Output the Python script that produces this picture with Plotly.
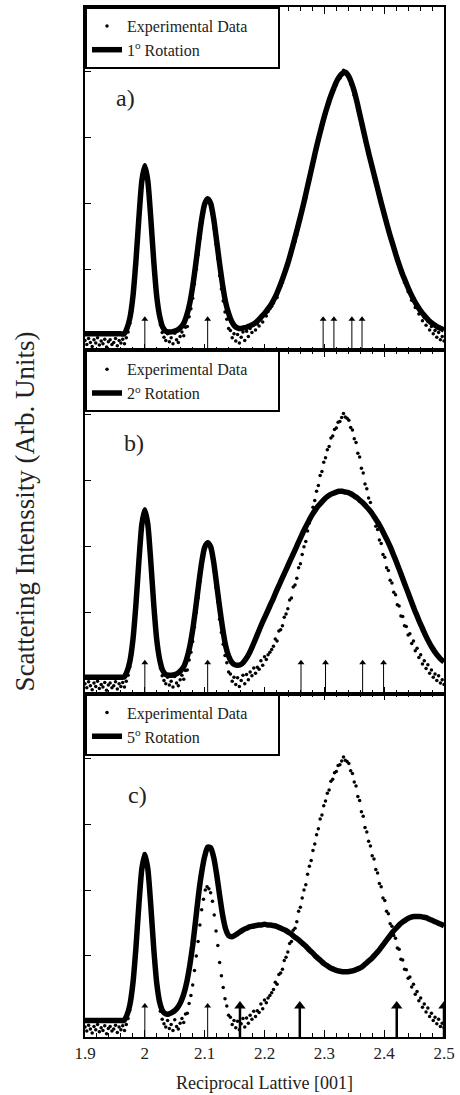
import plotly.graph_objects as go
from plotly.subplots import make_subplots

# ---------------- data ----------------
X_DATA = [
    1.900, 1.903, 1.906, 1.909, 1.912, 1.915, 1.918, 1.921, 1.924, 1.927,
    1.930, 1.933, 1.936, 1.939, 1.942, 1.945, 1.948, 1.951, 1.954, 1.957,
    1.960, 1.963, 1.966, 1.969, 1.972, 1.975, 1.978, 1.981, 1.984, 1.987,
    1.990, 1.993, 1.996, 1.999, 2.002, 2.005, 2.008, 2.011, 2.014, 2.017,
    2.020, 2.023, 2.026, 2.029, 2.032, 2.035, 2.038, 2.041, 2.044, 2.047,
    2.050, 2.053, 2.056, 2.059, 2.062, 2.065, 2.068, 2.071, 2.074, 2.077,
    2.080, 2.083, 2.086, 2.089, 2.092, 2.095, 2.098, 2.101, 2.104, 2.107,
    2.110, 2.113, 2.116, 2.119, 2.122, 2.125, 2.128, 2.131, 2.134, 2.137,
    2.140, 2.143, 2.146, 2.149, 2.152, 2.155, 2.158, 2.161, 2.164, 2.167,
    2.170, 2.173, 2.176, 2.179, 2.182, 2.185, 2.188, 2.191, 2.194, 2.197,
    2.200, 2.203, 2.206, 2.209, 2.212, 2.215, 2.218, 2.221, 2.224, 2.227,
    2.230, 2.233, 2.236, 2.239, 2.242, 2.245, 2.248, 2.251, 2.254, 2.257,
    2.260, 2.263, 2.266, 2.269, 2.272, 2.275, 2.278, 2.281, 2.284, 2.287,
    2.290, 2.293, 2.296, 2.299, 2.302, 2.305, 2.308, 2.311, 2.314, 2.317,
    2.320, 2.323, 2.326, 2.329, 2.332, 2.335, 2.338, 2.341, 2.344, 2.347,
    2.350, 2.353, 2.356, 2.359, 2.362, 2.365, 2.368, 2.371, 2.374, 2.377,
    2.380, 2.383, 2.386, 2.389, 2.392, 2.395, 2.398, 2.401, 2.404, 2.407,
    2.410, 2.413, 2.416, 2.419, 2.422, 2.425, 2.428, 2.431, 2.434, 2.437,
    2.440, 2.443, 2.446, 2.449, 2.452, 2.455, 2.458, 2.461, 2.464, 2.467,
    2.470, 2.473, 2.476, 2.479, 2.482, 2.485, 2.488, 2.491, 2.494, 2.497,
    2.500,
]
Y_DATA = [
    -0.08, -0.14, -0.05, -0.11, -0.17, -0.07, -0.12, -0.04, -0.15, -0.09,
    -0.13, -0.06, -0.18, -0.10, -0.07, -0.14, -0.11, -0.05, -0.16, -0.08,
    -0.12, -0.06, -0.13, -0.04, 0.05, 0.18, 0.36, 0.62, 0.95, 1.30,
    1.74, 2.12, 2.40, 2.55, 2.50, 2.33, 2.02, 1.60, 1.22, 0.84,
    0.53, 0.31, 0.16, 0.04, -0.03, -0.08, 0.02, -0.10, -0.04, -0.13,
    0.03, -0.07, -0.11, -0.02, 0.05, -0.01, 0.12, 0.13, 0.28, 0.40,
    0.56, 0.78, 1.00, 1.22, 1.47, 1.70, 1.86, 2.00, 2.05, 2.02,
    1.96, 1.83, 1.62, 1.38, 1.16, 0.90, 0.70, 0.52, 0.35, 0.24,
    0.10, 0.07, -0.04, 0.02, -0.09, 0.01, -0.12, -0.03, 0.05, -0.08,
    0.06, -0.02, 0.10, 0.04, 0.16, 0.08, 0.17, 0.14, 0.27, 0.20,
    0.33, 0.29, 0.36, 0.40, 0.44, 0.49, 0.60, 0.57, 0.72, 0.74,
    0.80, 0.93, 0.98, 1.06, 1.19, 1.22, 1.39, 1.42, 1.52, 1.68,
    1.74, 1.88, 2.00, 2.08, 2.24, 2.36, 2.45, 2.60, 2.70, 2.84,
    2.93, 3.08, 3.14, 3.28, 3.35, 3.47, 3.52, 3.65, 3.68, 3.78,
    3.80, 3.89, 3.90, 3.96, 4.02, 3.97, 3.95, 3.92, 3.81, 3.77,
    3.64, 3.58, 3.42, 3.36, 3.19, 3.12, 2.95, 2.88, 2.74, 2.67,
    2.52, 2.47, 2.31, 2.26, 2.10, 2.05, 1.88, 1.84, 1.68, 1.64,
    1.49, 1.45, 1.31, 1.27, 1.12, 1.10, 0.95, 0.94, 0.80, 0.79,
    0.66, 0.68, 0.53, 0.57, 0.42, 0.46, 0.32, 0.36, 0.22, 0.27,
    0.15, 0.21, 0.08, 0.13, 0.02, 0.07, -0.03, 0.04, -0.07, -0.02,
    -0.09,
]

X_FIT = [
    1.900, 1.905, 1.910, 1.915, 1.920, 1.925, 1.930, 1.935, 1.940, 1.945,
    1.950, 1.955, 1.960, 1.965, 1.970, 1.975, 1.980, 1.985, 1.990, 1.995,
    2.000, 2.005, 2.010, 2.015, 2.020, 2.025, 2.030, 2.035, 2.040, 2.045,
    2.050, 2.055, 2.060, 2.065, 2.070, 2.075, 2.080, 2.085, 2.090, 2.095,
    2.100, 2.105, 2.110, 2.115, 2.120, 2.125, 2.130, 2.135, 2.140, 2.145,
    2.150, 2.155, 2.160, 2.165, 2.170, 2.175, 2.180, 2.185, 2.190, 2.195,
    2.200, 2.205, 2.210, 2.215, 2.220, 2.225, 2.230, 2.235, 2.240, 2.245,
    2.250, 2.255, 2.260, 2.265, 2.270, 2.275, 2.280, 2.285, 2.290, 2.295,
    2.300, 2.305, 2.310, 2.315, 2.320, 2.325, 2.330, 2.335, 2.340, 2.345,
    2.350, 2.355, 2.360, 2.365, 2.370, 2.375, 2.380, 2.385, 2.390, 2.395,
    2.400, 2.405, 2.410, 2.415, 2.420, 2.425, 2.430, 2.435, 2.440, 2.445,
    2.450, 2.455, 2.460, 2.465, 2.470, 2.475, 2.480, 2.485, 2.490, 2.495,
    2.500,
]
FIT_1DEG = [
    0.02, 0.02, 0.02, 0.02, 0.02, 0.02, 0.02, 0.02, 0.02, 0.02,
    0.02, 0.02, 0.02, 0.02, 0.10, 0.26, 0.58, 1.11, 1.77, 2.34,
    2.57, 2.34, 1.77, 1.11, 0.58, 0.28, 0.12, 0.06, 0.05, 0.05,
    0.06, 0.08, 0.12, 0.18, 0.30, 0.48, 0.74, 1.07, 1.43, 1.76,
    1.99, 2.07, 2.00, 1.77, 1.43, 1.08, 0.76, 0.50, 0.33, 0.21,
    0.14, 0.11, 0.10, 0.11, 0.12, 0.14, 0.16, 0.19, 0.23, 0.28,
    0.33, 0.39, 0.45, 0.53, 0.62, 0.73, 0.85, 0.98, 1.12, 1.28,
    1.45, 1.62, 1.80, 1.98, 2.18, 2.38, 2.58, 2.78, 2.97, 3.15,
    3.32, 3.47, 3.61, 3.73, 3.84, 3.92, 3.97, 3.99, 3.94, 3.84,
    3.70, 3.52, 3.32, 3.12, 2.92, 2.73, 2.55, 2.37, 2.19, 2.01,
    1.84, 1.67, 1.51, 1.36, 1.21, 1.07, 0.94, 0.83, 0.72, 0.62,
    0.53, 0.45, 0.38, 0.32, 0.27, 0.22, 0.18, 0.15, 0.12, 0.10,
    0.08,
]
FIT_2DEG = [
    0.02, 0.02, 0.02, 0.02, 0.02, 0.02, 0.02, 0.02, 0.02, 0.02,
    0.02, 0.02, 0.02, 0.02, 0.10, 0.26, 0.58, 1.11, 1.77, 2.34,
    2.56, 2.34, 1.77, 1.11, 0.58, 0.28, 0.12, 0.06, 0.05, 0.05,
    0.06, 0.08, 0.12, 0.18, 0.30, 0.48, 0.74, 1.07, 1.43, 1.76,
    1.99, 2.06, 2.00, 1.77, 1.43, 1.08, 0.76, 0.50, 0.34, 0.25,
    0.21, 0.20, 0.21, 0.25, 0.31, 0.39, 0.49, 0.60, 0.71, 0.82,
    0.92, 1.02, 1.12, 1.22, 1.33, 1.43, 1.53, 1.63, 1.73, 1.83,
    1.93, 2.03, 2.13, 2.23, 2.32, 2.41, 2.49, 2.56, 2.62, 2.67,
    2.72, 2.76, 2.79, 2.81, 2.83, 2.84, 2.84, 2.83, 2.82, 2.80,
    2.77, 2.74, 2.70, 2.66, 2.61, 2.56, 2.50, 2.43, 2.36, 2.28,
    2.19, 2.10, 2.00, 1.89, 1.78, 1.66, 1.54, 1.42, 1.30, 1.18,
    1.06, 0.95, 0.84, 0.74, 0.64, 0.55, 0.47, 0.40, 0.34, 0.29,
    0.25,
]
FIT_5DEG = [
    0.02, 0.02, 0.02, 0.02, 0.02, 0.02, 0.02, 0.02, 0.02, 0.02,
    0.02, 0.02, 0.02, 0.02, 0.10, 0.26, 0.58, 1.11, 1.77, 2.32,
    2.54, 2.32, 1.76, 1.10, 0.58, 0.29, 0.16, 0.12, 0.12, 0.14,
    0.17, 0.22, 0.30, 0.42, 0.60, 0.85, 1.16, 1.55, 1.95, 2.27,
    2.51, 2.65, 2.64, 2.50, 2.24, 1.92, 1.62, 1.41, 1.31, 1.29,
    1.31, 1.34, 1.37, 1.40, 1.42, 1.44, 1.45, 1.46, 1.47, 1.47,
    1.48, 1.47, 1.47, 1.46, 1.45, 1.43, 1.41, 1.39, 1.36, 1.33,
    1.29, 1.26, 1.22, 1.18, 1.14, 1.09, 1.05, 1.00, 0.96, 0.92,
    0.88, 0.85, 0.82, 0.80, 0.78, 0.77, 0.76, 0.76, 0.76, 0.77,
    0.78, 0.80, 0.82, 0.85, 0.89, 0.93, 0.97, 1.02, 1.07, 1.13,
    1.19, 1.25, 1.31, 1.37, 1.42, 1.47, 1.51, 1.54, 1.57, 1.59,
    1.60, 1.60, 1.60, 1.59, 1.58, 1.56, 1.54, 1.52, 1.50, 1.48,
    1.46,
]

# arrow markers (peak positions)
ARROWS_A = [2.0, 2.105, 2.298, 2.316, 2.346, 2.363]
ARROWS_B = [2.0, 2.105, 2.261, 2.302, 2.364, 2.399]
ARROWS_C_THIN = [2.0, 2.105]
ARROWS_C_THICK = [2.159, 2.259, 2.421, 2.5]
ARROW_TIP = 0.24

FIT_NAMES = ["1<sup>o</sup> Rotation", "2<sup>o</sup> Rotation", "5<sup>o</sup> Rotation"]
PANEL_LETTERS = ["a)", "b)", "c)"]
X_RANGE = [1.9, 2.5]
Y_RANGE = [-0.23, 4.98]

# ---------------- figure ----------------
FONT = "Liberation Serif, Times New Roman, serif"
TXT = "#222222"

fig = make_subplots(rows=3, cols=1, shared_xaxes=True, vertical_spacing=0)

fits = [FIT_1DEG, FIT_2DEG, FIT_5DEG]
legend_keys = ["legend", "legend2", "legend3"]
for r in range(3):
    fig.add_trace(go.Scatter(
        x=X_DATA, y=Y_DATA, mode="markers", name="Experimental Data",
        marker=dict(color="black", size=3.5), legend=legend_keys[r]),
        row=r + 1, col=1)
    fig.add_trace(go.Scatter(
        x=X_FIT, y=fits[r], mode="lines", name=FIT_NAMES[r],
        line=dict(color="black", width=5.5, shape="spline", smoothing=0.6),
        legend=legend_keys[r]),
        row=r + 1, col=1)


def add_arrows(xs, row, width, head):
    # shaft: vertical segments from the axis up to the tip
    sx, sy = [], []
    for xv in xs:
        sx += [xv, xv, None]
        sy += [Y_RANGE[0], ARROW_TIP, None]
    fig.add_trace(go.Scatter(
        x=sx, y=sy, mode="lines", line=dict(color="black", width=width),
        showlegend=False, hoverinfo="skip"), row=row, col=1)
    # heads
    fig.add_trace(go.Scatter(
        x=xs, y=[ARROW_TIP] * len(xs), mode="markers",
        marker=dict(symbol="triangle-up", size=head, color="black"),
        showlegend=False, hoverinfo="skip"), row=row, col=1)


add_arrows(ARROWS_A, 1, 1, 6)
add_arrows(ARROWS_B, 2, 1, 6)
add_arrows(ARROWS_C_THIN, 3, 1, 6)
add_arrows(ARROWS_C_THICK, 3, 2.5, 10)


def axis_suffix(row):
    return "" if row == 1 else str(row)


# panel letters
letter_pos = [(0.080, 0.735), (0.102, 0.73), (0.113, 0.705)]
for r in range(3):
    s = axis_suffix(r + 1)
    fig.add_annotation(
        x=letter_pos[r][0], y=letter_pos[r][1], xref="x" + s + " domain",
        yref="y" + s + " domain", text=PANEL_LETTERS[r], showarrow=False,
        xanchor="left", yanchor="middle",
        font=dict(family=FONT, size=24, color=TXT))

# shared y title
fig.add_annotation(
    x=-0.168, y=0.51, xref="paper", yref="paper",
    text="Scattering Intenssity (Arb. Units)", showarrow=False,
    textangle=-90, xanchor="center", yanchor="middle",
    font=dict(family=FONT, size=27, color=TXT))

fig.update_xaxes(
    range=X_RANGE, tick0=1.9, dtick=0.1, ticks="inside", ticklen=7,
    tickwidth=1, tickcolor="black",
    minor=dict(dtick=0.02, ticks="inside", ticklen=4, tickwidth=1, tickcolor="black"),
    showline=True, linecolor="black", linewidth=1.5, mirror="ticks",
    showgrid=False, zeroline=False,
    tickfont=dict(family=FONT, size=17, color=TXT))
fig.update_xaxes(
    title=dict(text="Reciprocal Lattive [001]", standoff=14,
               font=dict(family=FONT, size=18, color=TXT)),
    row=3, col=1)
fig.update_yaxes(
    range=Y_RANGE, tick0=0, dtick=1, ticks="inside", ticklen=6, tickwidth=1,
    tickcolor="black", showticklabels=False, showline=True,
    linecolor="black", linewidth=1.5, mirror=True, showgrid=False,
    zeroline=False)

for r, key in enumerate(legend_keys):
    fig.update_layout({key: dict(
        x=0, y=1 - r / 3, xref="paper", yref="paper",
        xanchor="left", yanchor="top", bgcolor="white",
        orientation="h", entrywidth=146, entrywidthmode="pixels",
        bordercolor="black", borderwidth=2, tracegroupgap=0,
        font=dict(family=FONT, size=16, color=TXT))})

fig.update_layout(
    width=460, height=1095, showlegend=True,
    margin=dict(l=85, r=12, t=5, b=56),
    plot_bgcolor="white", paper_bgcolor="white",
    font=dict(family=FONT, color=TXT))

fig.write_html("out.html", config={"displayModeBar": False},
               post_script="document.body.style.margin='0px';")
